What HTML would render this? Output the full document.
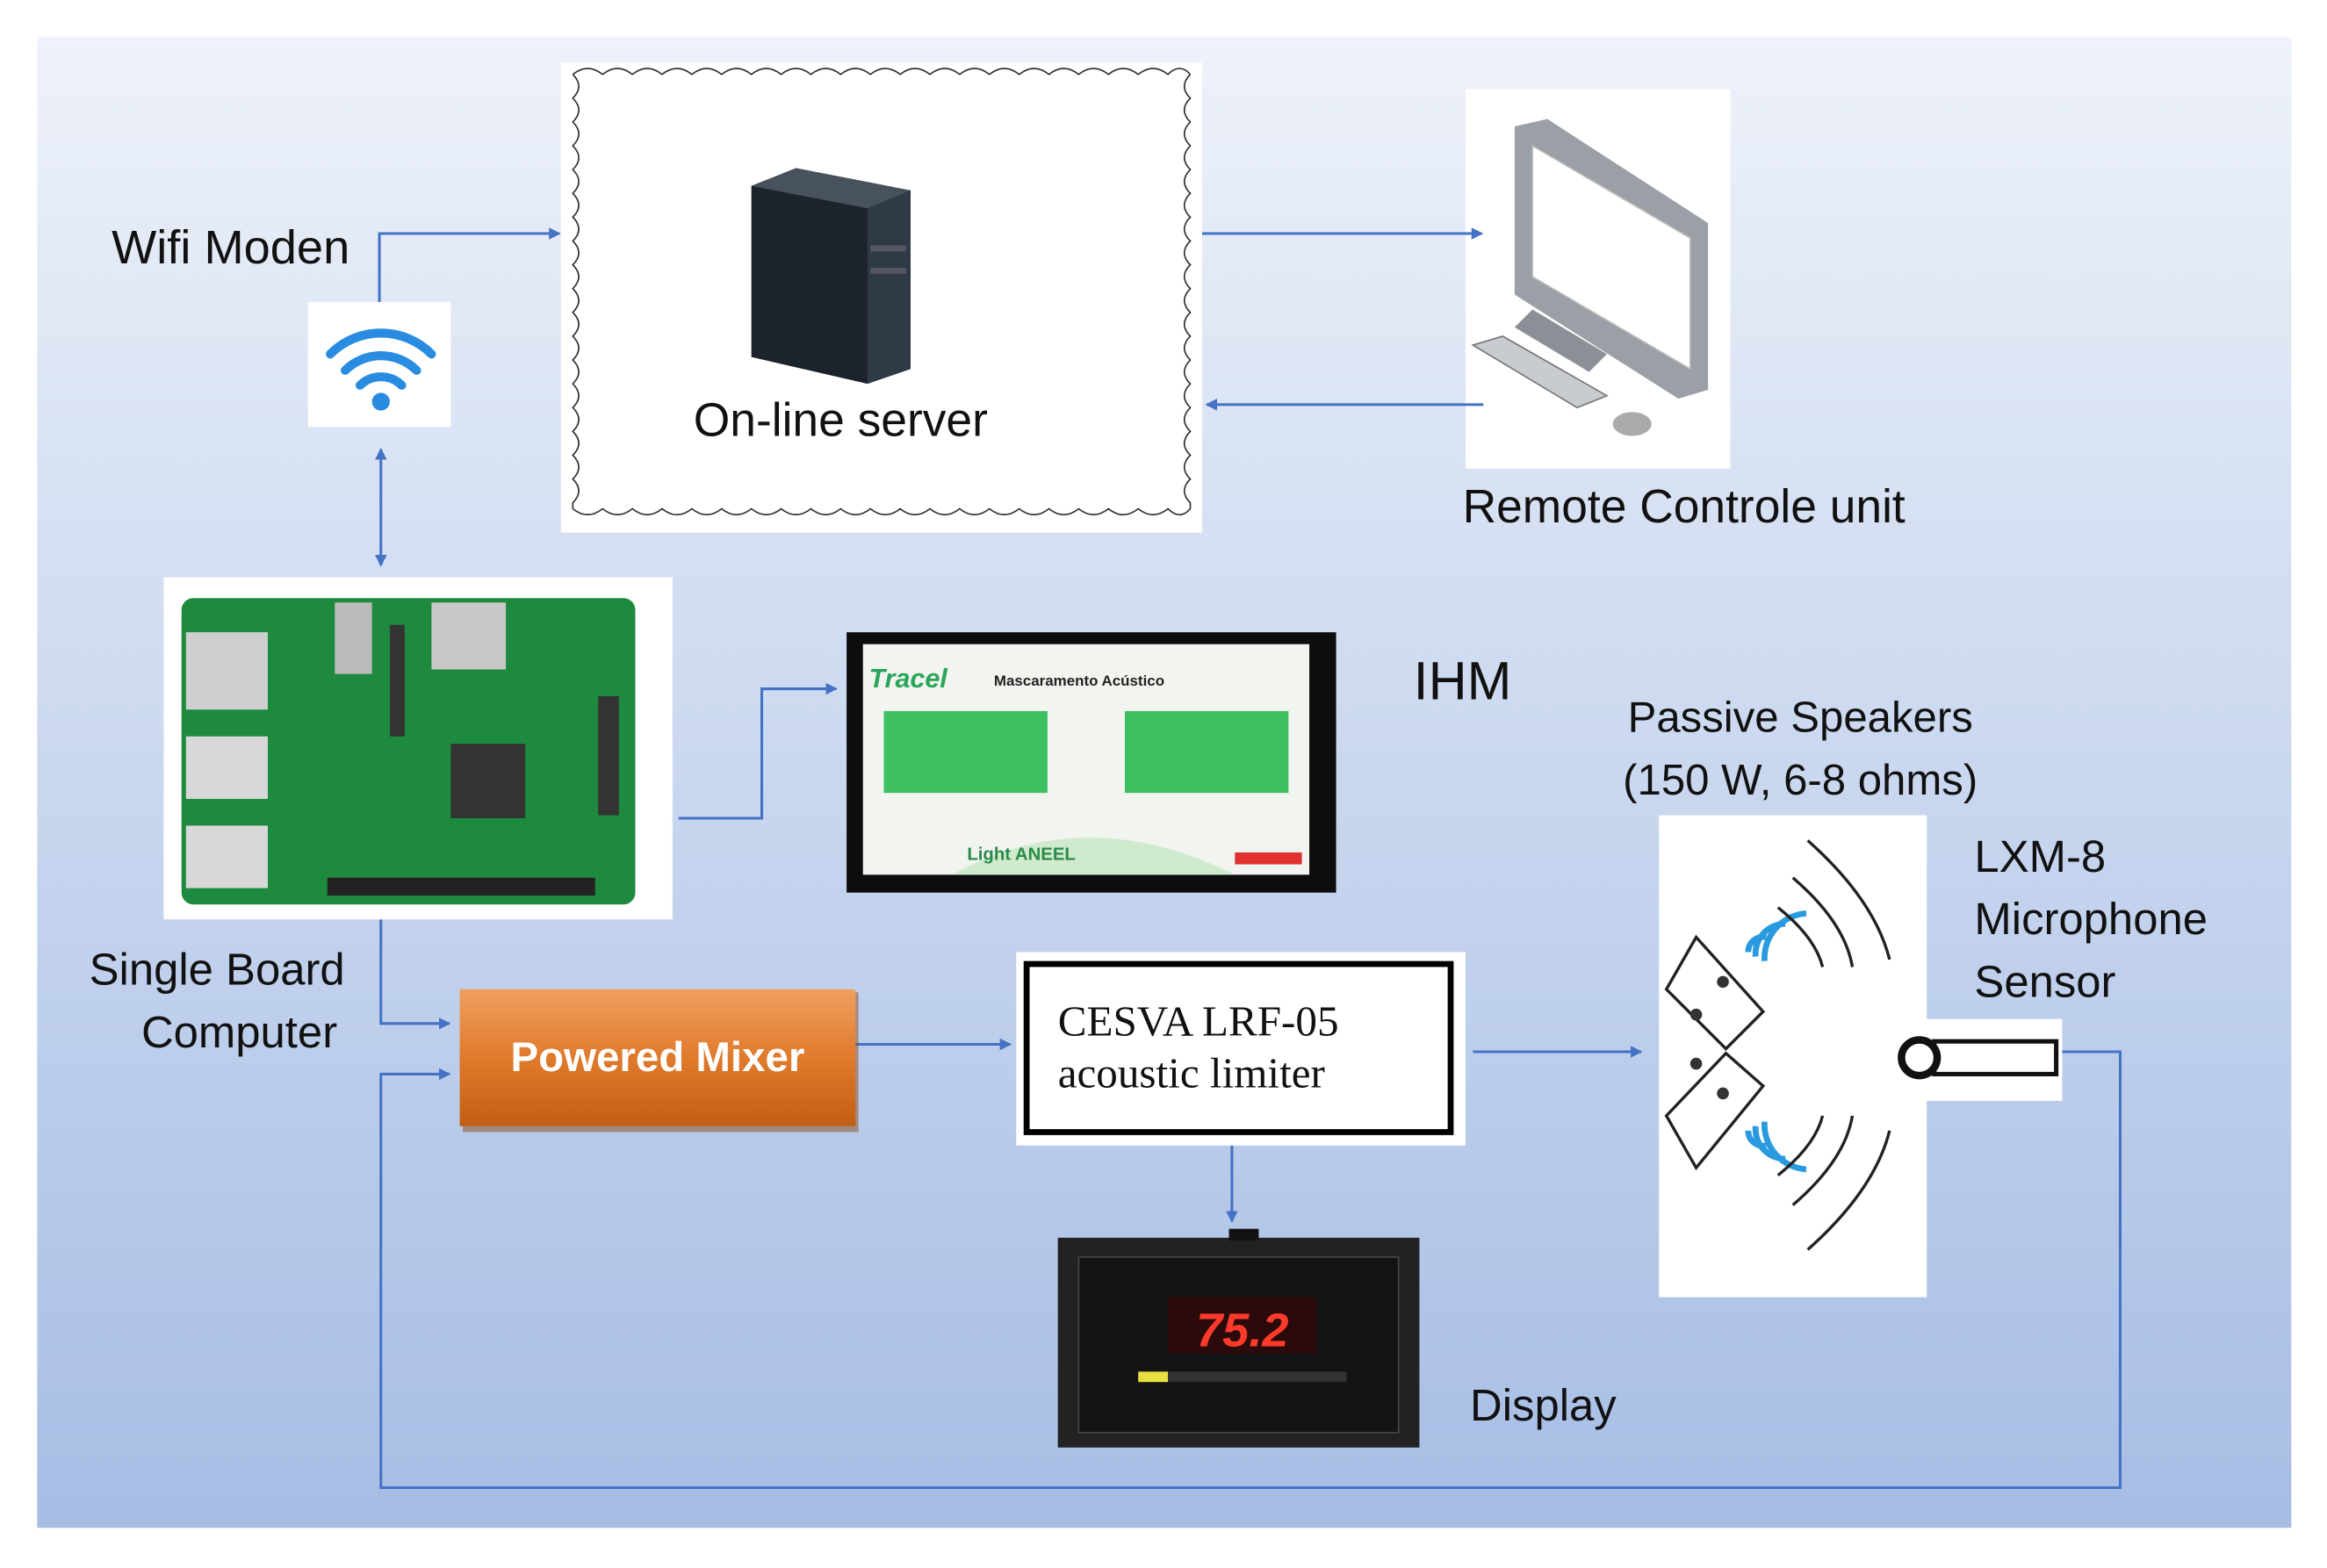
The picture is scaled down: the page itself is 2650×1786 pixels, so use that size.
<!DOCTYPE html>
<html><head><meta charset="utf-8"><style>
html,body{margin:0;padding:0;background:#fff;}
svg{display:block;}
text{font-family:"Liberation Sans","DejaVu Sans",sans-serif;}
</style></head><body>
<svg width="2650" height="1786" viewBox="0 0 1564 1054" preserveAspectRatio="none" xmlns="http://www.w3.org/2000/svg">
<defs>
<linearGradient id="bg" x1="0" y1="0" x2="0" y2="1">
<stop offset="0" stop-color="#eef2f9"/><stop offset="0.5" stop-color="#c9d7ef"/><stop offset="1" stop-color="#a6bde4"/>
</linearGradient>
<linearGradient id="org" x1="0" y1="0" x2="0" y2="1">
<stop offset="0" stop-color="#f0a060"/><stop offset="0.5" stop-color="#e07a2c"/><stop offset="1" stop-color="#c25e14"/>
</linearGradient>
<marker id="ah" markerWidth="8" markerHeight="8" refX="7" refY="4" orient="auto" markerUnits="userSpaceOnUse"><path d="M0,0 L8,4 L0,8 z" fill="#4472c4"/></marker>
<marker id="ahs" markerWidth="8" markerHeight="8" refX="1" refY="4" orient="auto" markerUnits="userSpaceOnUse"><path d="M8,0 L0,4 L8,8 z" fill="#4472c4"/></marker>
</defs>
<rect x="0" y="0" width="1564" height="1054" fill="#fff"/>
<rect x="25" y="25" width="1515" height="1002" fill="url(#bg)"/>

<rect x="377" y="42" width="431" height="316" fill="#fff"/>
<path d="M385,50 q8,8 0,16 q8,8 0,16 q8,8 0,16 q8,8 0,16 q8,8 0,16 q8,8 0,16 q8,8 0,16 q8,8 0,16 q8,8 0,16 q8,8 0,16 q8,8 0,16 q8,8 0,16 q8,8 0,16 q8,8 0,16 q8,8 0,16 q8,8 0,16 q8,8 0,16 q8,8 0,16 l0,4" fill="none" stroke="#333" stroke-width="1"/>
<path d="M800,50 q-8,8 0,16 q-8,8 0,16 q-8,8 0,16 q-8,8 0,16 q-8,8 0,16 q-8,8 0,16 q-8,8 0,16 q-8,8 0,16 q-8,8 0,16 q-8,8 0,16 q-8,8 0,16 q-8,8 0,16 q-8,8 0,16 q-8,8 0,16 q-8,8 0,16 q-8,8 0,16 q-8,8 0,16 q-8,8 0,16 l0,4" fill="none" stroke="#333" stroke-width="1"/>
<path d="M385,50 q10,-8 20,0 q10,-8 20,0 q10,-8 20,0 q10,-8 20,0 q10,-8 20,0 q10,-8 20,0 q10,-8 20,0 q10,-8 20,0 q10,-8 20,0 q10,-8 20,0 q10,-8 20,0 q10,-8 20,0 q10,-8 20,0 q10,-8 20,0 q10,-8 20,0 q10,-8 20,0 q10,-8 20,0 q10,-8 20,0 q10,-8 20,0 q10,-8 20,0 q8,-8 15,0" fill="none" stroke="#333" stroke-width="1"/>
<path d="M385,342 q10,8 20,0 q10,8 20,0 q10,8 20,0 q10,8 20,0 q10,8 20,0 q10,8 20,0 q10,8 20,0 q10,8 20,0 q10,8 20,0 q10,8 20,0 q10,8 20,0 q10,8 20,0 q10,8 20,0 q10,8 20,0 q10,8 20,0 q10,8 20,0 q10,8 20,0 q10,8 20,0 q10,8 20,0 q10,8 20,0 q8,8 15,0" fill="none" stroke="#333" stroke-width="1"/>
<polygon points="505,125 535,113 612,128 612,248 583,258 505,240" fill="#1c232b"/>
<polygon points="583,140 612,128 612,248 583,258" fill="#2e3a46"/>
<polygon points="505,125 535,113 612,128 583,140" fill="#48525c"/>
<rect x="585" y="165" width="24" height="4" fill="#556"/><rect x="585" y="180" width="24" height="4" fill="#556"/>
<text x="565" y="293" font-size="31.5" text-anchor="middle" fill="#111">On-line server</text>

<text x="75" y="177" font-size="32" fill="#111">Wifi Moden</text>
<rect x="207" y="203" width="96" height="84" fill="#fff"/>
<g fill="none" stroke="#2a8ce0" stroke-width="6" stroke-linecap="round">
<path d="M222,238 a48,48 0 0 1 68,0"/><path d="M232,249 a34,34 0 0 1 48,0"/><path d="M242,259 a20,20 0 0 1 28,0"/>
</g>
<circle cx="256" cy="270" r="6" fill="#2a8ce0"/>

<rect x="985" y="60" width="178" height="255" fill="#fff"/>
<polygon points="1018,85 1040,80 1148,150 1148,262 1128,268 1018,198" fill="#9aa0a6"/>
<polygon points="1030,98 1136,160 1136,248 1030,186" fill="#fff" stroke="#bbb"/>
<polygon points="1030,208 1080,238 1068,250 1018,220" fill="#8a9096"/>
<polygon points="990,232 1010,226 1080,266 1060,274" fill="#c8ccd0" stroke="#777"/>
<ellipse cx="1097" cy="285" rx="13" ry="8" fill="#aaa"/>
<text x="983" y="351" font-size="31.5" fill="#111">Remote Controle unit</text>

<g stroke="#4472c4" stroke-width="1.8" fill="none">
<path d="M255,203 V157 H376" marker-end="url(#ah)"/>
<path d="M808,157 H996" marker-end="url(#ah)"/>
<path d="M997,272 H811" marker-end="url(#ah)"/>
<path d="M256,302 V380" marker-start="url(#ahs)" marker-end="url(#ah)"/>
<path d="M456,550 H512 V463 H562" marker-end="url(#ah)"/>
<path d="M256,618 V688 H302" marker-end="url(#ah)"/>
<path d="M575,702 H679" marker-end="url(#ah)"/>
<path d="M828,770 V821" marker-end="url(#ah)"/>
<path d="M990,707 H1103" marker-end="url(#ah)"/>
<path d="M1386,707 H1425 V1000 H256 V722 H302" marker-end="url(#ah)"/>
</g>

<rect x="110" y="388" width="342" height="230" fill="#fff"/>
<rect x="122" y="402" width="305" height="206" rx="8" fill="#1e8a3e"/>
<rect x="125" y="425" width="55" height="52" fill="#cfcfcf"/>
<rect x="125" y="495" width="55" height="42" fill="#d8d8d8"/>
<rect x="125" y="555" width="55" height="42" fill="#d8d8d8"/>
<rect x="290" y="405" width="50" height="45" fill="#c8c8c8"/>
<rect x="225" y="405" width="25" height="48" fill="#bbb"/>
<rect x="303" y="500" width="50" height="50" fill="#333"/>
<rect x="220" y="590" width="180" height="12" fill="#222"/>
<rect x="262" y="420" width="10" height="75" fill="#333"/>
<rect x="402" y="468" width="14" height="80" fill="#333"/>
<text x="60" y="662" font-size="30" fill="#111">Single Board</text>
<text x="95" y="704" font-size="30" fill="#111">Computer</text>

<rect x="569" y="425" width="329" height="175" fill="#0d0d0d"/>
<rect x="580" y="433" width="300" height="155" fill="#f2f4f0"/>
<text x="584" y="462" font-size="18" font-style="italic" font-weight="bold" fill="#2aa55a">Tracel</text>
<text x="668" y="461" font-size="10" font-weight="bold" fill="#222">Mascaramento Acústico</text>
<rect x="594" y="478" width="110" height="55" fill="#3cc060"/>
<rect x="756" y="478" width="110" height="55" fill="#3cc060"/>
<path d="M640,588 q90,-50 190,0 z" fill="#cfeacc"/>
<text x="650" y="578" font-size="12" font-weight="bold" fill="#2a8a4a">Light  ANEEL</text>
<rect x="830" y="573" width="45" height="8" fill="#e03030"/>
<text x="950" y="470" font-size="36" fill="#111">IHM</text>

<rect x="311" y="667" width="266" height="94" fill="#8a4a1a" opacity="0.5"/>
<rect x="309" y="665" width="266" height="92" fill="url(#org)"/>
<text x="442" y="720" font-size="28" font-weight="bold" fill="#fff" text-anchor="middle">Powered Mixer</text>

<rect x="683" y="640" width="302" height="130" fill="#fff"/>
<rect x="690" y="648" width="285" height="113" fill="none" stroke="#000" stroke-width="4"/>
<text x="711" y="696" font-size="29" fill="#111" style="font-family:'Liberation Serif',serif">CESVA LRF-05</text>
<text x="711" y="731" font-size="29" fill="#111" style="font-family:'Liberation Serif',serif">acoustic limiter</text>

<rect x="711" y="832" width="243" height="141" fill="#222"/>
<rect x="826" y="826" width="20" height="8" fill="#111"/>
<rect x="725" y="845" width="215" height="118" fill="#141414" stroke="#444"/>
<rect x="785" y="872" width="100" height="38" fill="#2a0a0a"/>
<text x="835" y="905" font-size="32" font-weight="bold" fill="#ff3a2a" text-anchor="middle" font-style="italic">75.2</text>
<rect x="765" y="922" width="20" height="7" fill="#e8e040"/>
<rect x="785" y="922" width="120" height="7" fill="#333"/>
<text x="988" y="955" font-size="30" fill="#111">Display</text>

<text x="1210" y="492" font-size="29" fill="#111" text-anchor="middle">Passive Speakers</text>
<text x="1210" y="534" font-size="29" fill="#111" text-anchor="middle">(150 W, 6-8 ohms)</text>
<rect x="1115" y="548" width="180" height="324" fill="#fff"/>
<polygon points="1120,665 1140,630 1185,680 1160,705" fill="#fff" stroke="#222" stroke-width="2"/>
<polygon points="1120,750 1140,785 1185,730 1160,708" fill="#fff" stroke="#222" stroke-width="2"/>
<circle cx="1158" cy="660" r="4" fill="#333"/><circle cx="1140" cy="682" r="4" fill="#333"/>
<circle cx="1158" cy="735" r="4" fill="#333"/><circle cx="1140" cy="715" r="4" fill="#333"/>
<g fill="none" stroke="#2a9ae0" stroke-width="4">
<path d="M1175,640 a10,10 0 0 1 12,-10"/><path d="M1180,643 a20,20 0 0 1 20,-22"/><path d="M1186,646 a30,30 0 0 1 28,-32"/>
<path d="M1175,760 a10,10 0 0 0 12,10"/><path d="M1180,757 a20,20 0 0 0 20,22"/><path d="M1186,754 a30,30 0 0 0 28,32"/>
</g>
<g fill="none" stroke="#222" stroke-width="2">
<path d="M1205,590 q35,30 40,60"/><path d="M1215,565 q45,40 55,80"/><path d="M1195,610 q25,20 30,40"/>
<path d="M1205,810 q35,-30 40,-60"/><path d="M1215,840 q45,-40 55,-80"/><path d="M1195,790 q25,-20 30,-40"/>
</g>
<rect x="1268" y="685" width="118" height="55" fill="#fff"/>
<rect x="1300" y="700" width="82" height="22" fill="#fff" stroke="#111" stroke-width="3"/>
<circle cx="1290" cy="711" r="12" fill="#fff" stroke="#111" stroke-width="5"/>
<text x="1327" y="586" font-size="30" fill="#111">LXM-8</text>
<text x="1327" y="628" font-size="30" fill="#111">Microphone</text>
<text x="1327" y="670" font-size="30" fill="#111">Sensor</text>
</svg>
</body></html>
